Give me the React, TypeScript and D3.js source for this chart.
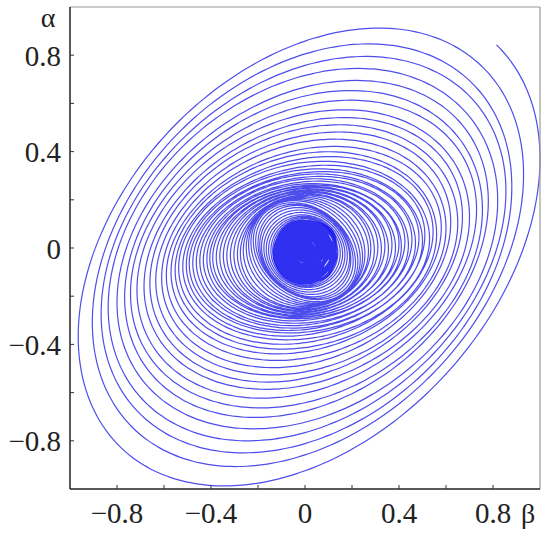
import React from "react";
import * as d3 from "d3";

// Axis ticks
const xTickLabels = [-0.8, -0.4, 0, 0.4, 0.8];
const yTickLabels = [-0.8, -0.4, 0, 0.4, 0.8];
const minorTicks = [-0.8, -0.6, -0.4, -0.2, 0, 0.2, 0.4, 0.6, 0.8];

// Trajectory, one entry per revolution (clockwise):
// half-width in beta, half-height in alpha, and phase lag (deg) giving the tilt.
const turnBeta = [
  1.0, 0.93, 0.88, 0.855, 0.82, 0.78, 0.755, 0.73, 0.7, 0.67, 0.65, 0.62, 0.6, 0.58,
  0.56, 0.545, 0.53, 0.51, 0.5, 0.485, 0.47, 0.455, 0.44, 0.425, 0.41, 0.4, 0.385, 0.37, 0.355, 0.34, 0.325, 0.31, 0.295, 0.28,
  0.27, 0.255, 0.245, 0.235, 0.225, 0.215, 0.205, 0.195, 0.19, 0.18, 0.17, 0.16, 0.15, 0.14, 0.135,
];
const turnAlpha = [
  1.0, 0.91, 0.85, 0.8, 0.75, 0.7, 0.66, 0.62, 0.58, 0.55, 0.52, 0.49, 0.46, 0.43,
  0.41, 0.39, 0.37, 0.355, 0.34, 0.33, 0.32, 0.31, 0.3, 0.29, 0.28, 0.275, 0.27, 0.265, 0.26, 0.255, 0.25, 0.245, 0.24, 0.235,
  0.23, 0.225, 0.22, 0.215, 0.21, 0.2, 0.195, 0.19, 0.18, 0.17, 0.16, 0.15, 0.145, 0.14, 0.135,
];
const turnPhase = [
  68, 70, 72, 72, 74, 73, 75, 74, 76, 75, 77, 76, 78, 77,
  80, 78, 82, 79, 83, 80, 84, 81, 85, 82, 86, 83, 87, 84, 88, 85, 88, 86, 89, 87,
  90, 93, 96, 99, 102, 104, 102, 100, 98, 96, 95, 94, 93, 92, 91,
];
// Dense core around the origin (continuation of the same trajectory)
const coreBeta = [
  0.13, 0.125, 0.13, 0.12, 0.125, 0.115, 0.12, 0.11, 0.12, 0.105, 0.115, 0.1, 0.11, 0.1, 0.105, 0.095,
  0.1, 0.09, 0.1, 0.085, 0.095, 0.08, 0.09, 0.08, 0.085, 0.075, 0.08, 0.07, 0.075, 0.065, 0.07, 0.06,
  0.065, 0.055, 0.06, 0.05, 0.045, 0.04, 0.035, 0.03, 0.025, 0.02, 0.015, 0.01, 0.006, 0.003,
];
const coreAlpha = [
  0.125, 0.13, 0.12, 0.125, 0.115, 0.12, 0.11, 0.12, 0.105, 0.115, 0.1, 0.11, 0.1, 0.105, 0.095, 0.1,
  0.09, 0.1, 0.085, 0.095, 0.08, 0.09, 0.08, 0.085, 0.075, 0.08, 0.07, 0.075, 0.065, 0.07, 0.06, 0.065,
  0.055, 0.06, 0.05, 0.055, 0.045, 0.04, 0.035, 0.03, 0.025, 0.02, 0.015, 0.01, 0.006, 0.003,
];
const corePhase = [
  85, 100, 70, 110, 80, 95, 65, 115, 90, 75, 105, 80, 100, 70, 110, 90,
  85, 95, 75, 105, 60, 120, 90, 80, 100, 70, 110, 85, 95, 75, 105, 90,
  80, 100, 90, 85, 95, 90, 90, 90, 90, 90, 90, 90, 90, 90,
];
const startAngle = -36; // degrees before the first beta maximum
const alphaOffset = -0.015;

const W = 550;
const H = 533;
const x = d3.scaleLinear().domain([-1, 1]).range([70, 540]);
const y = d3.scaleLinear().domain([-1, 1]).range([489, 7]);

function buildTrajectory(
  bs: number[],
  as: number[],
  ps: number[],
  start: number
): [number, number][] {
  const pts: [number, number][] = [];
  const n = bs.length;
  const stepsPerTurn = 160;
  const total = (n - 1) * 360;
  for (let deg = start; deg <= total + 0.001; deg += 360 / stepsPerTurn) {
    const t = deg / 360;
    const k = Math.max(0, Math.min(n - 2, Math.floor(t)));
    const f = t - k;
    const A = bs[k] + (bs[k + 1] - bs[k]) * f;
    const B = as[k] + (as[k + 1] - as[k]) * f;
    const P = ps[k] + (ps[k + 1] - ps[k]) * f;
    const th = (deg * Math.PI) / 180;
    const ph = (P * Math.PI) / 180;
    pts.push([A * Math.cos(th), B * Math.cos(th + ph) + alphaOffset]);
  }
  return pts;
}

const fmt = (v: number) => (v === 0 ? "0" : (v < 0 ? "\u2212" : "") + Math.abs(v).toFixed(1));

export default function App() {
  const outer = buildTrajectory(turnBeta, turnAlpha, turnPhase, startAngle);
  const core = buildTrajectory(
    [turnBeta[turnBeta.length - 1], ...coreBeta],
    [turnAlpha[turnAlpha.length - 1], ...coreAlpha],
    [turnPhase[turnPhase.length - 1], ...corePhase],
    0
  );
  const line = d3
    .line<[number, number]>()
    .x((d) => x(d[0]))
    .y((d) => y(d[1]))
    .curve(d3.curveCatmullRom);
  const font = "'Liberation Serif', 'Times New Roman', serif";
  return (
    <svg
      width={W}
      height={H}
      style={{ position: "absolute", left: 0, top: 0, background: "#fff" }}
    >
      <path d={line(outer) || ""} fill="none" stroke="#2626e8" strokeOpacity={0.82} strokeWidth={1.2} />
      <path d={line(core) || ""} fill="none" stroke="#1a1af0" strokeOpacity={0.9} strokeWidth={2} />
      {/* frame */}
      <line x1={70} x2={540} y1={7} y2={7} stroke="#9a9a9a" strokeWidth={1.2} />
      <line x1={540} x2={540} y1={7} y2={489} stroke="#9a9a9a" strokeWidth={1.2} />
      <line x1={70} x2={70} y1={7} y2={489} stroke="#222" strokeWidth={1.5} />
      <line x1={70} x2={540} y1={489} y2={489} stroke="#222" strokeWidth={1.5} />
      {minorTicks.map((v) => (
        <g key={"t" + v}>
          <line x1={70} x2={74} y1={y(v)} y2={y(v)} stroke="#333" strokeWidth={1} />
          <line x1={x(v)} x2={x(v)} y1={489} y2={485} stroke="#333" strokeWidth={1} />
        </g>
      ))}
      {yTickLabels.map((v) => (
        <text key={"yl" + v} x={61} y={y(v) + 4} textAnchor="end" fontFamily={font} fontSize={29} fill="#222" dominantBaseline="middle">
          {fmt(v)}
        </text>
      ))}
      {xTickLabels.map((v) => (
        <text key={"xl" + v} x={x(v)} y={523} textAnchor="middle" fontFamily={font} fontSize={29} fill="#222">
          {fmt(v)}
        </text>
      ))}
      <text x={48} y={27} textAnchor="middle" fontFamily={font} fontSize={28} fill="#222">
        α
      </text>
      <text x={528} y={523} textAnchor="middle" fontFamily={font} fontSize={28} fill="#222">
        β
      </text>
    </svg>
  );
}
